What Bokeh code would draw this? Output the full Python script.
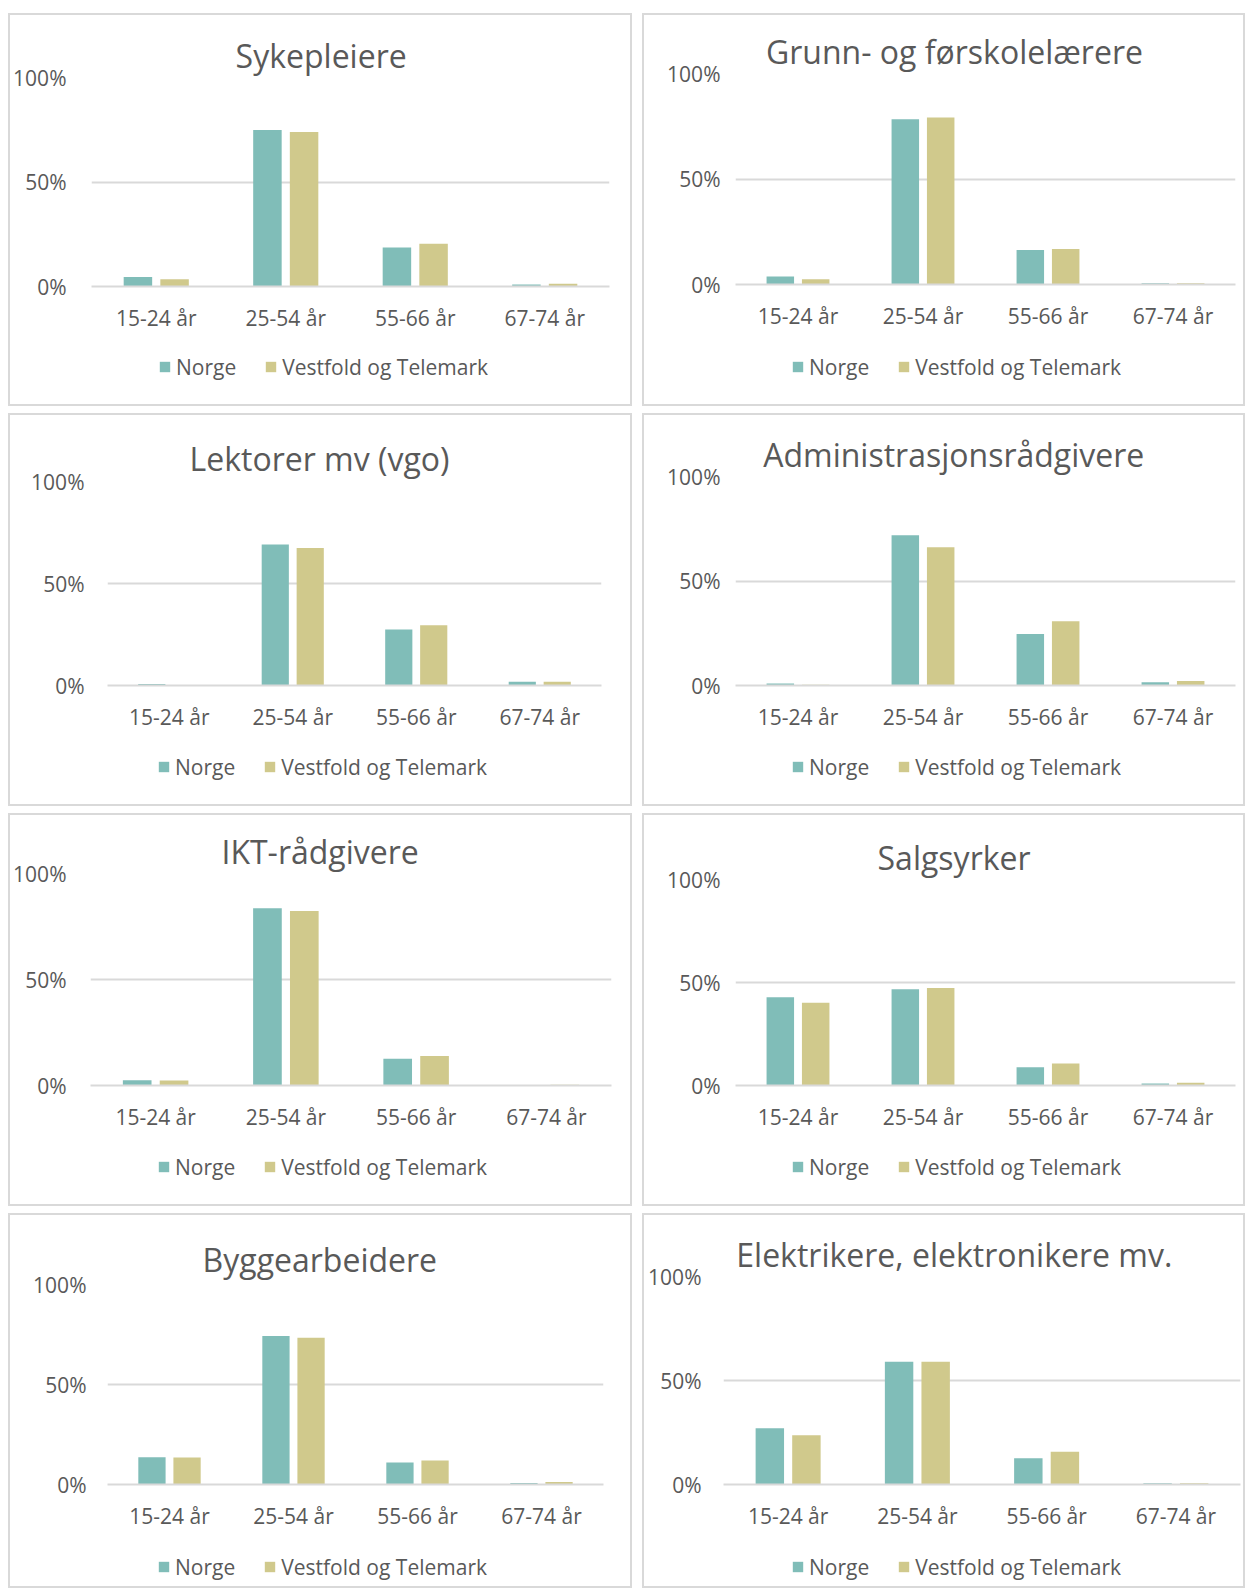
from bokeh.plotting import figure
from bokeh.models import (FactorRange, Range1d, FixedTicker, PrintfTickFormatter,
                          Legend, LegendItem, ColumnDataSource, Title)
from bokeh.transform import dodge
from bokeh.layouts import column, row
from bokeh.embed import file_html
from bokeh.resources import INLINE

# ---------------- data ----------------
categories = ["15-24 år", "25-54 år", "55-66 år", "67-74 år"]
series_names = ["Norge", "Vestfold og Telemark"]

titles = ["Sykepleiere", "Grunn- og førskolelærere", "Lektorer mv (vgo)",
          "Administrasjonsrådgivere", "IKT-rådgivere", "Salgsyrker",
          "Byggearbeidere", "Elektrikere, elektronikere mv."]

sykepleiere_norge = [4.5, 74.9, 18.7, 1.0]
sykepleiere_vt = [3.5, 73.9, 20.5, 1.3]
grunn_norge = [3.8, 78.3, 16.3, 0.6]
grunn_vt = [2.5, 79.1, 16.8, 0.6]
lektorer_norge = [0.7, 69.1, 27.5, 1.8]
lektorer_vt = [0.3, 67.4, 29.5, 1.8]
admin_norge = [1.0, 71.9, 24.6, 1.6]
admin_vt = [0.3, 66.1, 30.7, 2.1]
ikt_norge = [2.5, 83.6, 12.6, 0.1]
ikt_vt = [2.4, 82.3, 13.9, 0.3]
salg_norge = [42.8, 46.7, 8.8, 1.0]
salg_vt = [40.2, 47.3, 10.7, 1.3]
bygg_norge = [13.6, 74.3, 11.0, 0.7]
bygg_vt = [13.5, 73.4, 12.0, 1.2]
elektro_norge = [27.0, 59.0, 12.6, 0.6]
elektro_vt = [23.7, 59.0, 15.8, 0.6]

y_ticks = [0, 50, 100]

norge_values = [sykepleiere_norge, grunn_norge, lektorer_norge, admin_norge,
                ikt_norge, salg_norge, bygg_norge, elektro_norge]
vt_values = [sykepleiere_vt, grunn_vt, lektorer_vt, admin_vt,
             ikt_vt, salg_vt, bygg_vt, elektro_vt]

# ---------------- style / layout ----------------
NORGE_COLOR = "#80BDB8"
VT_COLOR = "#D0C98C"
TEXT_COLOR = "#595959"
GRID_COLOR = "#D9D9D9"
FONT = "Open Sans"
B = 2  # panel border width
TITLE_SIZE = 32

# approximate Open Sans advance widths (units per 2048 em), used to centre titles
ADV = {" ": 532, ",": 502, "-": 659, ".": 545, "(": 608, ")": 608,
       "A": 1296, "B": 1327, "E": 1126, "G": 1413, "I": 627, "K": 1200, "L": 1098,
       "S": 1104, "T": 1100, "a": 1139, "b": 1255, "d": 1255, "e": 1149, "f": 694,
       "g": 1122, "i": 518, "j": 518, "k": 1075, "l": 518, "m": 1905, "n": 1257,
       "o": 1237, "p": 1255, "r": 836, "s": 977, "t": 723, "u": 1257, "v": 1026,
       "y": 1028, "å": 1139, "æ": 1757, "ø": 1237}


def text_width(s, size):
    return sum(ADV.get(c, 1100) for c in s) / 2048.0 * size


# outer w, outer h, frame left, frame right, frame top, frame bottom, y-label standoff
panel_specs = [
    (624, 393, 82, 601, 64.5, 273, 25),
    (603, 393, 93, 593, 60.5, 271.3, 15),
    (624, 393, 99, 593, 68.4, 271.5, 23),
    (603, 393, 93, 593, 62.8, 271.5, 15),
    (624, 393, 82, 603, 60.5, 272, 24),
    (603, 393, 93, 593, 66, 272, 15),
    (624, 375, 99, 595, 70.7, 271.3, 21),
    (603, 375, 81, 598, 63, 271.3, 22),
]

TITLE_CX = 311.5
LEGEND_LEFT = 150
LEGEND_CY = 353.5
XAXIS_SPACE = 50
LEG_H = 28


def border_style(widths):
    return {"border-style": "solid", "border-color": GRID_COLOR,
            "border-width": widths, "box-sizing": "content-box"}


def make_panel(title, nvals, vvals, spec):
    ow, oh, fl, fr, ft, fb, ys = spec
    cw = ow - 2 * B
    h1 = int(round(fb - B + XAXIS_SPACE))
    mbl = int(round(fl - B))
    p = figure(width=cw, height=h1, output_backend="svg", toolbar_location=None,
               x_range=FactorRange(*categories), y_range=Range1d(0, 100),
               min_border_left=mbl,
               min_border_right=int(round(ow - fr + 2)),
               min_border_top=int(round(ft - B)),
               min_border_bottom=XAXIS_SPACE + B)
    p.styles = border_style(f"{B}px {B}px 0px {B}px")
    p.outline_line_color = None
    p.background_fill_color = "white"
    p.border_fill_color = "white"

    src = ColumnDataSource(dict(cat=categories, norge=nvals, vt=vvals))
    p.vbar(x=dodge("cat", -0.1415, range=p.x_range), top="norge", width=0.22,
           source=src, fill_color=NORGE_COLOR, line_color=None)
    p.vbar(x=dodge("cat", 0.1415, range=p.x_range), top="vt", width=0.22,
           source=src, fill_color=VT_COLOR, line_color=None)

    # axes
    p.xgrid.visible = False
    p.ygrid.grid_line_color = GRID_COLOR
    p.ygrid.grid_line_width = 2
    p.yaxis.ticker = FixedTicker(ticks=y_ticks)
    p.yaxis.formatter = PrintfTickFormatter(format="%d%%")
    p.yaxis.axis_line_color = None
    p.yaxis.major_tick_line_color = None
    p.yaxis.minor_tick_line_color = None
    p.yaxis.major_tick_out = 0
    p.yaxis.major_tick_in = 0
    p.yaxis.minor_tick_out = 0
    p.yaxis.major_label_standoff = ys
    p.yaxis.major_label_text_font = FONT
    p.yaxis.major_label_text_font_size = "21px"
    p.yaxis.major_label_text_color = TEXT_COLOR

    p.xaxis.axis_line_color = GRID_COLOR
    p.xaxis.axis_line_width = 2
    p.xaxis.major_tick_line_color = None
    p.xaxis.minor_tick_line_color = None
    p.xaxis.major_tick_out = 0
    p.xaxis.major_tick_in = 0
    p.xaxis.minor_tick_out = 0
    p.xaxis.major_label_standoff = 17
    p.xaxis.major_label_text_font = FONT
    p.xaxis.major_label_text_font_size = "21px"
    p.xaxis.major_label_text_color = TEXT_COLOR

    # title, centred on the whole chart box like the original
    tw = text_width(title, TITLE_SIZE)
    p.title = Title(text=title, align="left",
                    offset=TITLE_CX - fl - tw / 2.0,
                    vertical_align="middle", standoff=max(0, int(round(ft - 66))),
                    text_font=FONT, text_font_size=f"{TITLE_SIZE}px",
                    text_font_style="normal", text_color=TEXT_COLOR)

    # legend strip underneath (its own small canvas so nothing is clipped);
    # same left border as the chart so the stacked frames line up
    h2 = oh - 2 * B - h1
    lf = figure(width=cw, height=h2, output_backend="svg", toolbar_location=None,
                x_range=Range1d(0, 1), y_range=Range1d(0, 1), min_border=0,
                min_border_left=mbl,
                x_axis_location=None, y_axis_location=None)
    lf.styles = border_style(f"0px {B}px {B}px {B}px")
    lf.outline_line_color = None
    lf.background_fill_color = "white"
    lf.border_fill_color = "white"
    lf.grid.visible = False
    # key renderers: a zero-height bar outside the visible range, only used for the legend swatches
    k1 = lf.vbar(x=[-5], top=[0], width=0.1, fill_color=NORGE_COLOR, line_color=None)
    k2 = lf.vbar(x=[-5], top=[0], width=0.1, fill_color=VT_COLOR, line_color=None)
    top = LEGEND_CY - (B + h1) - LEG_H / 2.0
    vy = (h2 + B) - top - LEG_H
    legend = Legend(items=[LegendItem(label=series_names[0], renderers=[k1]),
                           LegendItem(label=series_names[1], renderers=[k2])],
                    orientation="horizontal",
                    location=(LEGEND_LEFT - fl - 1, max(0, vy)),
                    glyph_width=13, glyph_height=13, label_height=LEG_H,
                    label_standoff=5, spacing=28, padding=0, margin=0,
                    border_line_color=None, background_fill_alpha=0,
                    label_text_font=FONT, label_text_font_size="21px",
                    label_text_color=TEXT_COLOR)
    lf.add_layout(legend)
    return column(p, lf, spacing=0)


panels = [make_panel(t, n, v, s) for t, n, v, s in zip(titles, norge_values, vt_values, panel_specs)]

rows = [row(panels[i], panels[i + 1], spacing=10) for i in range(0, 8, 2)]
layout = column(*rows, spacing=7, styles={"margin-top": "13px", "margin-left": "8px"})

open("out.html", "w").write(file_html(layout, INLINE))
